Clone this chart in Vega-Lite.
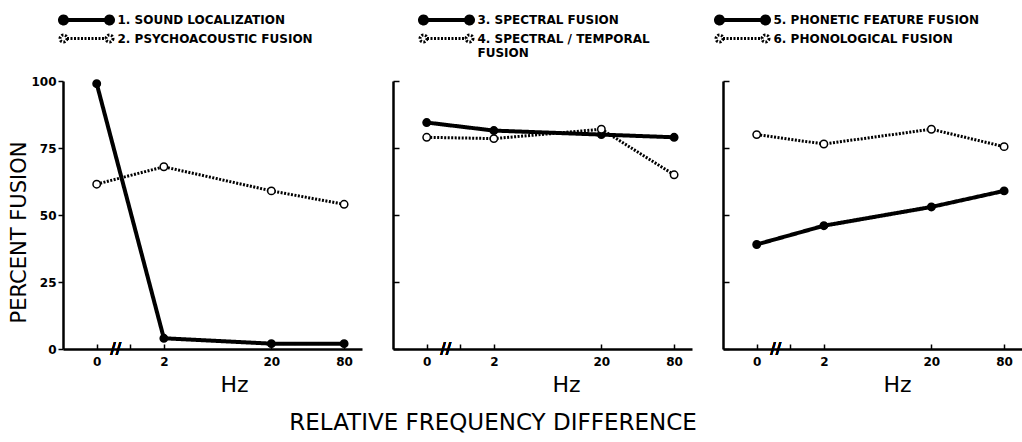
{
  "$schema": "https://vega.github.io/schema/vega-lite/v6.json",
  "background": "white",
  "padding": {"left": 8, "top": 13, "right": 0, "bottom": 4},
  "config": {
    "font": "DejaVu Sans",
    "view": {"stroke": null},
    "axis": {
      "domainColor": "black", "domainWidth": 2.5, "tickColor": "black", "tickWidth": 1.5,
      "labelColor": "black", "titleColor": "black", "grid": false,
      "labelFont": "DejaVu Sans", "labelFontWeight": "bold", "labelFontSize": 12,
      "titleFont": "DejaVu Sans", "titleFontWeight": "normal"
    },
    "legend": {
      "labelFont": "DejaVu Sans", "labelFontWeight": "bold", "labelFontSize": 12,
      "labelColor": "black", "labelLimit": 400
    }
  },
  "data": {"values": [
    {"panel": 1, "series": "1. SOUND LOCALIZATION", "hz": 0, "pct": 99},
    {"panel": 1, "series": "1. SOUND LOCALIZATION", "hz": 2, "pct": 4},
    {"panel": 1, "series": "1. SOUND LOCALIZATION", "hz": 20, "pct": 2},
    {"panel": 1, "series": "1. SOUND LOCALIZATION", "hz": 80, "pct": 2},
    {"panel": 1, "series": "2. PSYCHOACOUSTIC FUSION", "hz": 0, "pct": 61.5},
    {"panel": 1, "series": "2. PSYCHOACOUSTIC FUSION", "hz": 2, "pct": 68},
    {"panel": 1, "series": "2. PSYCHOACOUSTIC FUSION", "hz": 20, "pct": 59},
    {"panel": 1, "series": "2. PSYCHOACOUSTIC FUSION", "hz": 80, "pct": 54},
    {"panel": 2, "series": "3. SPECTRAL FUSION", "hz": 0, "pct": 84.5},
    {"panel": 2, "series": "3. SPECTRAL FUSION", "hz": 2, "pct": 81.5},
    {"panel": 2, "series": "3. SPECTRAL FUSION", "hz": 20, "pct": 80},
    {"panel": 2, "series": "3. SPECTRAL FUSION", "hz": 80, "pct": 79},
    {"panel": 2, "series": "4. SPECTRAL / TEMPORAL FUSION", "hz": 0, "pct": 79},
    {"panel": 2, "series": "4. SPECTRAL / TEMPORAL FUSION", "hz": 2, "pct": 78.5},
    {"panel": 2, "series": "4. SPECTRAL / TEMPORAL FUSION", "hz": 20, "pct": 82},
    {"panel": 2, "series": "4. SPECTRAL / TEMPORAL FUSION", "hz": 80, "pct": 65},
    {"panel": 3, "series": "5. PHONETIC FEATURE FUSION", "hz": 0, "pct": 39},
    {"panel": 3, "series": "5. PHONETIC FEATURE FUSION", "hz": 2, "pct": 46},
    {"panel": 3, "series": "5. PHONETIC FEATURE FUSION", "hz": 20, "pct": 53},
    {"panel": 3, "series": "5. PHONETIC FEATURE FUSION", "hz": 80, "pct": 59},
    {"panel": 3, "series": "6. PHONOLOGICAL FUSION", "hz": 0, "pct": 80},
    {"panel": 3, "series": "6. PHONOLOGICAL FUSION", "hz": 2, "pct": 76.5},
    {"panel": 3, "series": "6. PHONOLOGICAL FUSION", "hz": 20, "pct": 82},
    {"panel": 3, "series": "6. PHONOLOGICAL FUSION", "hz": 80, "pct": 75.5}
  ]},
  "title": {
    "text": "RELATIVE FREQUENCY DIFFERENCE", "orient": "bottom", "anchor": "middle", "frame": "bounds",
    "font": "DejaVu Sans", "fontSize": 23, "fontWeight": "normal", "color": "black",
    "dx": -22, "offset": 17
  },
  "bounds": "flush",
  "spacing": 31,
  "resolve": {
    "scale": {"x": "independent", "y": "independent", "strokeDash": "independent", "strokeWidth": "independent", "fill": "independent"},
    "legend": {"strokeDash": "independent", "strokeWidth": "independent", "fill": "independent"}
  },
  "hconcat": [
    {
      "width": 299, "height": 268,
      "transform": [{"filter": "datum.panel == 1"}],
      "layer": [
        {
          "mark": {"type": "line", "color": "black"},
          "encoding": {
            "x": {"field": "hz", "type": "quantitative",
              "scale": {"type": "symlog", "constant": 0.8, "domain": [-0.7, 112], "nice": false, "zero": false},
              "axis": {"values": [0, 0.68, 2, 20, 80], "labelExpr": "datum.value > 0.5 && datum.value < 1 ? '' : datum.label",
                "title": "Hz", "titleFontSize": 22, "titleX": 171, "titleY": 42, "titleBaseline": "alphabetic",
                "tickSize": -5, "labelPadding": 12}},
            "y": {"field": "pct", "type": "quantitative",
              "scale": {"domain": [0, 100], "nice": false},
              "axis": {"values": [0, 25, 50, 75, 100], "title": "PERCENT FUSION", "titleFontSize": 21,
                "titleX": -44, "titleY": 151, "titleBaseline": "middle", "titleAngle": 270, "tickSize": 5, "labelPadding": 2}},
            "strokeDash": {"field": "series", "type": "nominal",
              "scale": {"domain": ["1. SOUND LOCALIZATION", "2. PSYCHOACOUSTIC FUSION"], "range": [[1, 0], [2, 1.5]]},
              "legend": {"title": null, "orient": "none", "legendX": 16.5, "legendY": -68, "direction": "vertical",
                "symbolType": "M-3.9,0H3.9M-3.9,0A0.7,0.7,0,1,1,-5.3,0A0.7,0.7,0,1,1,-3.9,0M5.3,0A0.7,0.7,0,1,1,3.9,0A0.7,0.7,0,1,1,5.3,0",
                "symbolSize": 100, "symbolStrokeColor": "black", "labelOffset": 24, "rowPadding": -6}},
            "strokeWidth": {"field": "series", "type": "nominal",
              "scale": {"type": "ordinal", "domain": ["1. SOUND LOCALIZATION", "2. PSYCHOACOUSTIC FUSION"], "range": [4, 3]},
              "legend": {"title": null, "orient": "none", "legendX": 16.5, "legendY": -68, "direction": "vertical",
                "symbolType": "M-3.9,0H3.9M-3.9,0A0.7,0.7,0,1,1,-5.3,0A0.7,0.7,0,1,1,-3.9,0M5.3,0A0.7,0.7,0,1,1,3.9,0A0.7,0.7,0,1,1,5.3,0",
                "symbolSize": 100, "symbolStrokeColor": "black", "labelOffset": 24, "rowPadding": -6}}
          }
        },
        {
          "mark": {"type": "point", "filled": true, "size": 55, "stroke": "black", "strokeWidth": 1.5, "opacity": 1},
          "encoding": {
            "x": {"field": "hz", "type": "quantitative"},
            "y": {"field": "pct", "type": "quantitative"},
            "fill": {"field": "series", "type": "nominal",
              "scale": {"domain": ["1. SOUND LOCALIZATION", "2. PSYCHOACOUSTIC FUSION"], "range": ["black", "white"]},
              "legend": {"title": null, "orient": "none", "legendX": 16.5, "legendY": -68, "direction": "vertical",
                "symbolType": "M-3.9,0H3.9M-3.9,0A0.7,0.7,0,1,1,-5.3,0A0.7,0.7,0,1,1,-3.9,0M5.3,0A0.7,0.7,0,1,1,3.9,0A0.7,0.7,0,1,1,5.3,0",
                "symbolSize": 100, "symbolStrokeColor": "black", "labelOffset": 24, "rowPadding": -6}}
          }
        },
        {
          "mark": {"type": "text", "text": "//", "fontSize": 15, "fontWeight": "bold", "color": "black", "align": "center", "baseline": "middle"},
          "encoding": {"x": {"datum": 0.34}, "y": {"datum": 0}}
        }
      ]
    },
    {
      "width": 299, "height": 268,
      "transform": [{"filter": "datum.panel == 2"}],
      "layer": [
        {
          "mark": {"type": "line", "color": "black"},
          "encoding": {
            "x": {"field": "hz", "type": "quantitative",
              "scale": {"type": "symlog", "constant": 0.8, "domain": [-0.7, 112], "nice": false, "zero": false},
              "axis": {"values": [0, 0.68, 2, 20, 80], "labelExpr": "datum.value > 0.5 && datum.value < 1 ? '' : datum.label",
                "title": "Hz", "titleFontSize": 22, "titleX": 173, "titleY": 42, "titleBaseline": "alphabetic",
                "tickSize": -5, "labelPadding": 12}},
            "y": {"field": "pct", "type": "quantitative",
              "scale": {"domain": [0, 100], "nice": false},
              "axis": {"values": [0, 25, 50, 75, 100], "title": null, "labels": false, "tickSize": -6}},
            "strokeDash": {"field": "series", "type": "nominal",
              "scale": {"domain": ["3. SPECTRAL FUSION", "4. SPECTRAL / TEMPORAL FUSION"], "range": [[1, 0], [2, 1.5]]},
              "legend": {"title": null, "orient": "none", "legendX": 46.5, "legendY": -68, "direction": "vertical",
                "symbolType": "M-3.9,0H3.9M-3.9,0A0.7,0.7,0,1,1,-5.3,0A0.7,0.7,0,1,1,-3.9,0M5.3,0A0.7,0.7,0,1,1,3.9,0A0.7,0.7,0,1,1,5.3,0",
                "symbolSize": 100, "symbolStrokeColor": "black", "labelOffset": 24, "rowPadding": -6,
                "labelExpr": "datum.label == '4. SPECTRAL / TEMPORAL FUSION' ? ['4. SPECTRAL / TEMPORAL', '\u00a0\u00a0\u00a0\u00a0FUSION'] : datum.label"}},
            "strokeWidth": {"field": "series", "type": "nominal",
              "scale": {"type": "ordinal", "domain": ["3. SPECTRAL FUSION", "4. SPECTRAL / TEMPORAL FUSION"], "range": [4, 3]},
              "legend": {"title": null, "orient": "none", "legendX": 46.5, "legendY": -68, "direction": "vertical",
                "symbolType": "M-3.9,0H3.9M-3.9,0A0.7,0.7,0,1,1,-5.3,0A0.7,0.7,0,1,1,-3.9,0M5.3,0A0.7,0.7,0,1,1,3.9,0A0.7,0.7,0,1,1,5.3,0",
                "symbolSize": 100, "symbolStrokeColor": "black", "labelOffset": 24, "rowPadding": -6,
                "labelExpr": "datum.label == '4. SPECTRAL / TEMPORAL FUSION' ? ['4. SPECTRAL / TEMPORAL', '\u00a0\u00a0\u00a0\u00a0FUSION'] : datum.label"}}
          }
        },
        {
          "mark": {"type": "point", "filled": true, "size": 55, "stroke": "black", "strokeWidth": 1.5, "opacity": 1},
          "encoding": {
            "x": {"field": "hz", "type": "quantitative"},
            "y": {"field": "pct", "type": "quantitative"},
            "fill": {"field": "series", "type": "nominal",
              "scale": {"domain": ["3. SPECTRAL FUSION", "4. SPECTRAL / TEMPORAL FUSION"], "range": ["black", "white"]},
              "legend": {"title": null, "orient": "none", "legendX": 46.5, "legendY": -68, "direction": "vertical",
                "symbolType": "M-3.9,0H3.9M-3.9,0A0.7,0.7,0,1,1,-5.3,0A0.7,0.7,0,1,1,-3.9,0M5.3,0A0.7,0.7,0,1,1,3.9,0A0.7,0.7,0,1,1,5.3,0",
                "symbolSize": 100, "symbolStrokeColor": "black", "labelOffset": 24, "rowPadding": -6,
                "labelExpr": "datum.label == '4. SPECTRAL / TEMPORAL FUSION' ? ['4. SPECTRAL / TEMPORAL', '\u00a0\u00a0\u00a0\u00a0FUSION'] : datum.label"}}
          }
        },
        {
          "mark": {"type": "text", "text": "//", "fontSize": 15, "fontWeight": "bold", "color": "black", "align": "center", "baseline": "middle"},
          "encoding": {"x": {"datum": 0.34}, "y": {"datum": 0}}
        }
      ]
    },
    {
      "width": 299, "height": 268,
      "transform": [{"filter": "datum.panel == 3"}],
      "layer": [
        {
          "mark": {"type": "line", "color": "black"},
          "encoding": {
            "x": {"field": "hz", "type": "quantitative",
              "scale": {"type": "symlog", "constant": 0.8, "domain": [-0.7, 112], "nice": false, "zero": false},
              "axis": {"values": [0, 0.68, 2, 20, 80], "labelExpr": "datum.value > 0.5 && datum.value < 1 ? '' : datum.label",
                "title": "Hz", "titleFontSize": 22, "titleX": 174, "titleY": 42, "titleBaseline": "alphabetic",
                "tickSize": -5, "labelPadding": 12}},
            "y": {"field": "pct", "type": "quantitative",
              "scale": {"domain": [0, 100], "nice": false},
              "axis": {"values": [0, 25, 50, 75, 100], "title": null, "labels": false, "tickSize": -6}},
            "strokeDash": {"field": "series", "type": "nominal",
              "scale": {"domain": ["5. PHONETIC FEATURE FUSION", "6. PHONOLOGICAL FUSION"], "range": [[1, 0], [2, 1.5]]},
              "legend": {"title": null, "orient": "none", "legendX": 12.5, "legendY": -68, "direction": "vertical",
                "symbolType": "M-3.9,0H3.9M-3.9,0A0.7,0.7,0,1,1,-5.3,0A0.7,0.7,0,1,1,-3.9,0M5.3,0A0.7,0.7,0,1,1,3.9,0A0.7,0.7,0,1,1,5.3,0",
                "symbolSize": 100, "symbolStrokeColor": "black", "labelOffset": 24, "rowPadding": -6}},
            "strokeWidth": {"field": "series", "type": "nominal",
              "scale": {"type": "ordinal", "domain": ["5. PHONETIC FEATURE FUSION", "6. PHONOLOGICAL FUSION"], "range": [4, 3]},
              "legend": {"title": null, "orient": "none", "legendX": 12.5, "legendY": -68, "direction": "vertical",
                "symbolType": "M-3.9,0H3.9M-3.9,0A0.7,0.7,0,1,1,-5.3,0A0.7,0.7,0,1,1,-3.9,0M5.3,0A0.7,0.7,0,1,1,3.9,0A0.7,0.7,0,1,1,5.3,0",
                "symbolSize": 100, "symbolStrokeColor": "black", "labelOffset": 24, "rowPadding": -6}}
          }
        },
        {
          "mark": {"type": "point", "filled": true, "size": 55, "stroke": "black", "strokeWidth": 1.5, "opacity": 1},
          "encoding": {
            "x": {"field": "hz", "type": "quantitative"},
            "y": {"field": "pct", "type": "quantitative"},
            "fill": {"field": "series", "type": "nominal",
              "scale": {"domain": ["5. PHONETIC FEATURE FUSION", "6. PHONOLOGICAL FUSION"], "range": ["black", "white"]},
              "legend": {"title": null, "orient": "none", "legendX": 12.5, "legendY": -68, "direction": "vertical",
                "symbolType": "M-3.9,0H3.9M-3.9,0A0.7,0.7,0,1,1,-5.3,0A0.7,0.7,0,1,1,-3.9,0M5.3,0A0.7,0.7,0,1,1,3.9,0A0.7,0.7,0,1,1,5.3,0",
                "symbolSize": 100, "symbolStrokeColor": "black", "labelOffset": 24, "rowPadding": -6}}
          }
        },
        {
          "mark": {"type": "text", "text": "//", "fontSize": 15, "fontWeight": "bold", "color": "black", "align": "center", "baseline": "middle"},
          "encoding": {"x": {"datum": 0.34}, "y": {"datum": 0}}
        }
      ]
    }
  ]
}
